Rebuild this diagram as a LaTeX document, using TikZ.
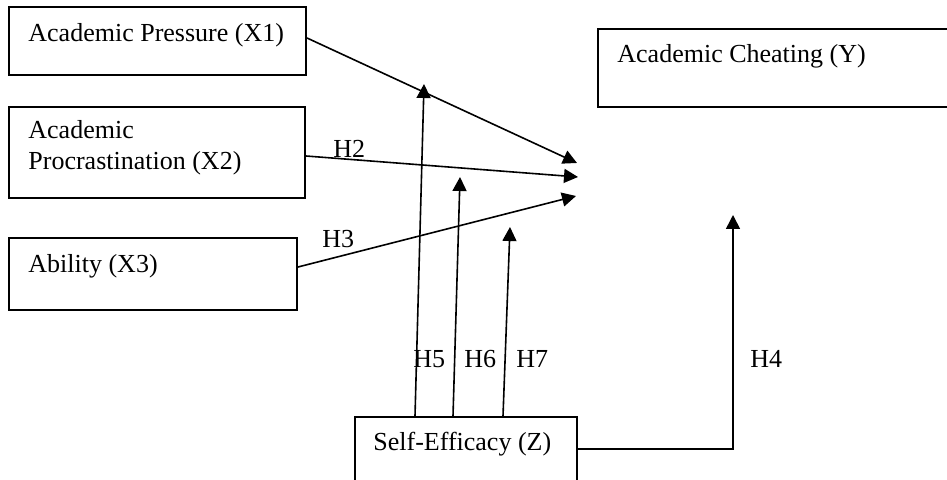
\documentclass[tikz,border=0pt]{standalone}
\usepackage{fontspec}
\setmainfont{Liberation Serif}
\usetikzlibrary{arrows.meta}
\begin{document}
\begin{tikzpicture}[x=0.5pt,y=-0.5pt,
  box/.style={draw, line width=1pt, rectangle, inner sep=0pt},
  txt/.style={inner sep=0pt, anchor=base west, font=\fontsize{13}{15.5}\selectfont},
  arr/.style={line width=0.8pt, -{Triangle[length=7pt,width=7pt]}},
  ln/.style={line width=0.8pt}]
\useasboundingbox (0,0) rectangle (947,480);
\clip (0,0) rectangle (947,480);
\fill[white] (0,0) rectangle (947,480);
% boxes
\node[box, minimum width=148.5pt, minimum height=34pt] (x1) at (157.5,41) {};
\node[box, minimum width=148pt, minimum height=45.5pt] (x2) at (157,152.5) {};
\node[box, minimum width=144pt, minimum height=36pt] (x3) at (153,274) {};
\node[box, minimum width=200pt, minimum height=39pt] (y) at (798,68) {};
\node[box, minimum width=111pt, minimum height=41.5pt] (z) at (466,458.5) {};
% texts
\node[txt] (tx1) at (28,42) {Academic Pressure (X1)};
\node[txt] (tx2a) at (28,139) {Academic};
\node[txt] (tx2b) at (28,170) {Procrastination (X2)};
\node[txt] (tx3) at (28,273) {Ability (X3)};
\node[txt] (ty) at (617,63) {Academic Cheating (Y)};
\node[txt] (tz) at (373,450) {Self-Efficacy (Z)};
% tips
\coordinate (t1) at (577,163);
\coordinate (t2) at (578,177);
\coordinate (t3) at (576,196);
\coordinate (t5) at (424,84);
\coordinate (t6) at (460,177);
\coordinate (t7) at (510,227);
\coordinate (t4) at (733,215);
% arrows
\draw[arr] ([yshift=1.5pt]x1.east) -- (t1);
\draw[arr] ([yshift=-1.75pt]x2.east) -- (t2);
\draw[arr] ([yshift=3.5pt]x3.east) -- (t3);
\draw[arr] ([xshift=-25.5pt]z.north) -- (t5);
\draw[arr] ([xshift=-6.5pt]z.north) -- (t6);
\draw[arr] ([xshift=18.5pt]z.north) -- (t7);
\draw[arr] ([yshift=4.75pt]z.east) -| (t4);
% labels
\node[txt] (h2) at (333,158) {H2};
\node[txt] (h3) at (322,248) {H3};
\node[txt] (h5) at (413,368) {H5};
\node[txt] (h6) at (464,368) {H6};
\node[txt] (h7) at (516,368) {H7};
\node[txt] (h4) at (750,368) {H4};
\end{tikzpicture}
\end{document}
